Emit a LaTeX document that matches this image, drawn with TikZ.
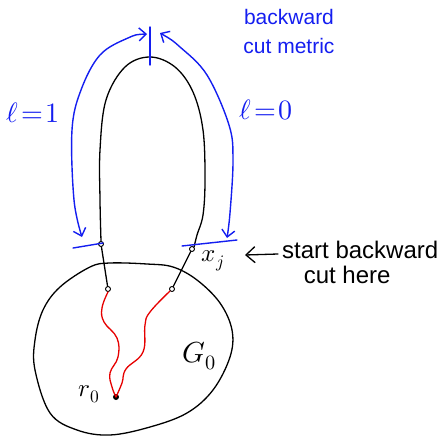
\documentclass[tikz,border=0pt]{standalone}
\usepackage{fontspec}
\usepackage{unicode-math}
\setmainfont{Liberation Sans}
\usepackage{tikz}
\usetikzlibrary{positioning, arrows.meta, calc}
\definecolor{penBlue}{RGB}{20,30,240}
\definecolor{penRed}{RGB}{230,0,0}

\begin{document}
\begin{tikzpicture}[
    x=1pt, y=-1pt,
    ink/.style={draw=black, line width=1.3pt, line cap=round, line join=round},
    blueink/.style={draw=penBlue, line width=1.4pt, line cap=round, line join=round},
    redink/.style={draw=penRed, line width=1.3pt, line cap=round},
    port/.style={circle, draw=black, fill=white, inner sep=0pt, minimum size=5pt, line width=0.9pt},
    root/.style={circle, fill=black, inner sep=0pt, minimum size=6pt},
    barb/.style={{Straight Barb[length=7pt,width=13pt]}-{Straight Barb[length=7pt,width=13pt]}},
    bluelabel/.style={text=penBlue, align=center, inner sep=0pt},
    blacklabel/.style={text=black, align=left, inner sep=0pt}
]
\useasboundingbox (0,0) rectangle (437,439);

% Ports and root
\node[port] (xl) at (101,244) {};
\node[port] (xj) at (192,249) {};
\node[port] (yl) at (108,289) {};
\node[port] (yr) at (172,289) {};
\node[root] (r0) at (116,397) {};

% Region G0
\draw[ink] plot[smooth cycle, tension=0.6] coordinates {
    (110,263) (147,264) (173,267) (197,280) (220,303) (232,330) (230,357)
    (213,390) (187,413) (150,427) (110,435) (77,430) (50,413) (35,370)
    (35,340) (43,310) (60,287) (90,267)};

% Loop
\draw[ink] plot[smooth, tension=0.6] coordinates {
    (xl.north) (100,200) (100,150) (106,100) (125,67) (150,57) (175,67)
    (193,92) (203,130) (205,180) (203,215) (197,235) (xj.north east)};
\draw[ink] (xl) -- (yl);
\draw[ink] (xj) -- (yr);

% Paths to the root
\draw[redink] plot[smooth, tension=0.7] coordinates {
    (yl.south) (102,308) (104,322) (117,338) (118,357) (110,373) (112,387) (r0)};
\draw[redink] plot[smooth, tension=0.7] coordinates {
    (yr.south west) (150,312) (145,325) (143,352) (126,369) (122,383) (r0)};

% Cut marks
\coordinate (tl) at (73,248);
\coordinate (tr) at (237,240);
\coordinate (ttop) at (150,27);
\coordinate (tbot) at (150,65);
\draw[blueink] (tl) -- (103,243);
\draw[blueink] (182,246) -- (tr);
\draw[blueink] (ttop) -- (tbot);

% Metric arcs
\draw[blueink, barb] plot[smooth, tension=0.6] coordinates {
    (147,34) (128,38) (100,55) (81,90) (72,130) (74,200) (82,237)};
\draw[blueink, barb] plot[smooth, tension=0.6] coordinates {
    (160,33) (180,47) (207,75) (229,125) (233,160) (230,213) (227,238)};

% Labels
\node[bluelabel, font=\fontsize{28}{30}\selectfont] (l1) at (33,113) {$\ell\!=\!1$};
\node[bluelabel, font=\fontsize{28}{30}\selectfont] (l0) at (266,110) {$\ell\!=\!0$};
\node[bluelabel, font=\fontsize{21}{29}\selectfont] (metric) at (289,31) {backward\\cut metric};
\node[blacklabel, font=\fontsize{25}{26}\selectfont] at (213,261) {$x_j$};
\node[blacklabel, font=\fontsize{25}{26}\selectfont] at (89,394) {$r_0$};
\node[blacklabel, font=\fontsize{29}{30}\selectfont] at (199,356) {$G_0$};
\node[blacklabel, font=\fontsize{24}{25}\selectfont, anchor=west] (start) at (282,262) {start backward\\\hspace{0.9em}cut here};
\coordinate (tip) at (245,255);
\draw[ink, -{Straight Barb[length=9pt,width=16pt]}] ($(start.west)+(-4,-8)$) -- (tip);

\end{tikzpicture}
\end{document}
